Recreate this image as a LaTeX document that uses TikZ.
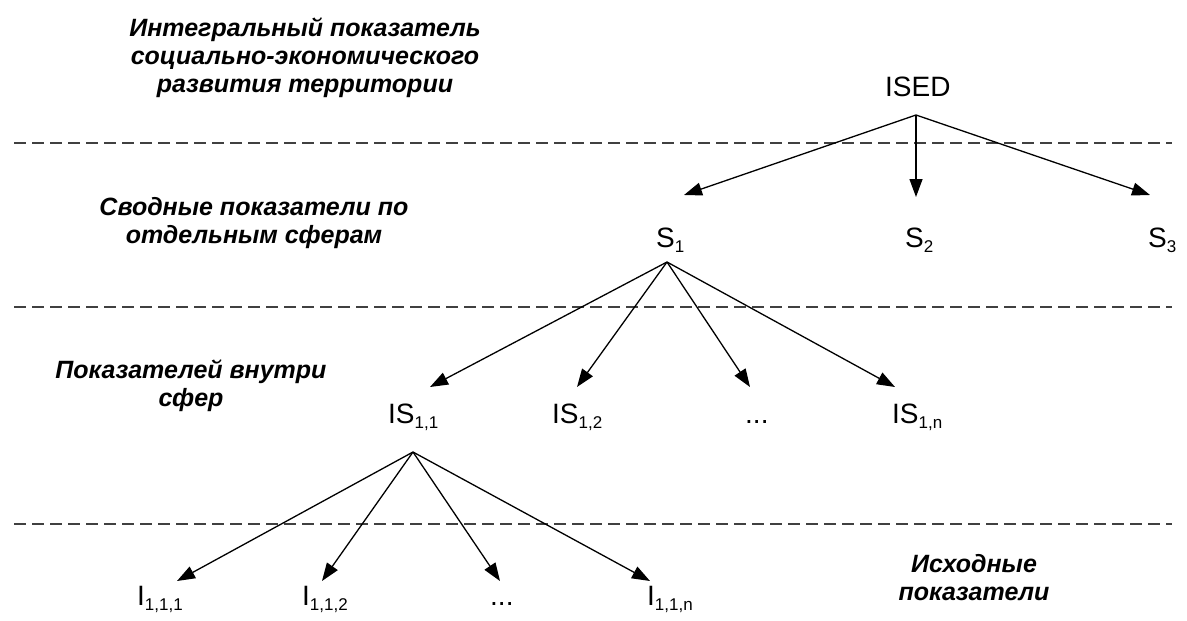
\documentclass[tikz,border=0pt]{standalone}
\usepackage{fontspec}
\setmainfont{Liberation Sans}
\usetikzlibrary{arrows.meta}
\newcommand\lsub[1]{\raisebox{-5pt}{\fontsize{17}{17}\selectfont #1}}
\tikzset{
  lbl/.style={anchor=base west, inner sep=0pt, font=\fontsize{28}{30}\selectfont},
  lvl/.style={align=center, inner sep=0pt, anchor=base, font=\fontsize{25}{28}\selectfont\bfseries\itshape},
  sep/.style={draw=black!75, line width=1.3pt, dash pattern=on 12pt off 6pt},
  arr/.style={line width=1.3pt, -{Triangle[length=18pt,width=13pt]}}
}
\begin{document}
\begin{tikzpicture}[x=1pt,y=-1pt]
\useasboundingbox (0,0) rectangle (1187,621);
% level texts (base = last line)
\node[lvl] (t1) at (305,92) {Интегральный показатель\\социально-экономического\\развития территории};
\node[lvl] (t2) at (254,243) {Сводные показатели по\\отдельным сферам};
\node[lvl] (t3) at (191,406) {Показателей внутри\\сфер};
\node[lvl] (t4) at (974,600) {Исходные\\показатели};
% separators
\coordinate (d1a) at (14,143); \coordinate (d1b) at (1172,143);
\coordinate (d2a) at (14,307); \coordinate (d2b) at (1172,307);
\coordinate (d3a) at (14,524); \coordinate (d3b) at (1172,524);
\draw[sep] (d1a) -- (d1b);
\draw[sep] (d2a) -- (d2b);
\draw[sep] (d3a) -- (d3b);
% labels
\node[lbl] (ised) at (885,96) {ISED};
\node[lbl] (s1) at (656,247) {S\lsub{1}};
\node[lbl] (s2) at (905,247) {S\lsub{2}};
\node[lbl] (s3) at (1148,247) {S\lsub{3}};
\node[lbl] (is11) at (388,423) {IS\lsub{1,1}};
\node[lbl] (is12) at (552,423) {IS\lsub{1,2}};
\node[lbl] (isd) at (745,423) {...};
\node[lbl] (is1n) at (892,423) {IS\lsub{1,n}};
\node[lbl] (i111) at (137,605) {I\lsub{1,1,1}};
\node[lbl] (i112) at (302,605) {I\lsub{1,1,2}};
\node[lbl] (id) at (490,605) {...};
\node[lbl] (i11n) at (647,605) {I\lsub{1,1,n}};
% hubs and tips
\coordinate (h0) at (916,115);
\coordinate (h1) at (667,262);
\coordinate (h2) at (413,452);
\coordinate (ts1) at (684,195);
\coordinate (ts2) at (916,197);
\coordinate (ts3) at (1150,195);
\coordinate (tis11) at (430,387);
\coordinate (tis12) at (577,387);
\coordinate (tisd) at (750,387);
\coordinate (tis1n) at (895,387);
\coordinate (ti111) at (177,581);
\coordinate (ti112) at (322,581);
\coordinate (tid) at (500,581);
\coordinate (ti11n) at (650,581);
% arrows
\draw[arr] (h0) -- (ts1);
\draw[arr] (h0) -- (ts2);
\draw[arr] (h0) -- (ts3);
\draw[arr] (h1) -- (tis11);
\draw[arr] (h1) -- (tis12);
\draw[arr] (h1) -- (tisd);
\draw[arr] (h1) -- (tis1n);
\draw[arr] (h2) -- (ti111);
\draw[arr] (h2) -- (ti112);
\draw[arr] (h2) -- (tid);
\draw[arr] (h2) -- (ti11n);
\end{tikzpicture}
\end{document}
